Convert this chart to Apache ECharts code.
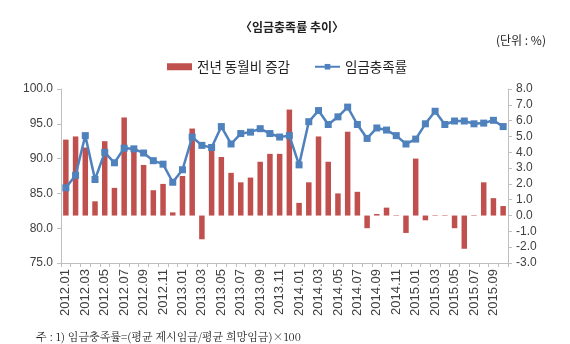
<!DOCTYPE html>
<html><head><meta charset="utf-8">
<script src="https://cdn.jsdelivr.net/npm/echarts@6/dist/echarts.min.js"></script>
<style>html,body{margin:0;padding:0;background:#fff}#c{width:570px;height:344px}</style>
</head><body><div id="c"></div>
<script>
const categories = [];
for (const y of [2012, 2013, 2014, 2015]) {
  for (let m = 1; m <= 12; m++) {
    if (y === 2015 && m > 10) break;
    categories.push(y + '.' + (m < 10 ? '0' + m : m));
  }
}
const changeYoY = [4.8, 5.0, 4.3, 0.9, 4.7, 1.75, 6.2, 4.2, 3.2, 1.6, 2.0, 0.2,
  2.5, 5.5, -1.5, 4.2, 3.7, 2.7, 2.1, 2.4, 3.4, 3.9, 3.9, 6.7,
  0.8, 2.1, 5.0, 3.4, 1.4, 5.3, 1.5, -0.8, 0.1, 0.5, -0.03, -1.1,
  3.6, -0.3, 0.03, 0.03, -0.8, -2.1, 0.03, 2.1, 1.1, 0.6];
const fulfillRate = [85.8, 87.6, 93.3, 87.0, 90.9, 89.4, 91.5, 91.4, 90.8, 89.7, 89.2, 86.6,
  88.4, 93.1, 91.9, 91.6, 94.6, 92.1, 93.6, 93.8, 94.3, 93.6, 93.1, 93.3,
  89.1, 95.3, 96.9, 94.9, 96.0, 97.4, 94.9, 92.9, 94.4, 94.1, 93.3, 92.1,
  92.8, 95.0, 96.8, 94.9, 95.4, 95.4, 95.0, 95.1, 95.5, 94.6];
const seriesNames = ['전년 동월비 증감', '임금충족률'];

const chart = echarts.init(document.getElementById('c'));
const axisColor = '#bfbfbf';
const labelColor = '#404040';
const font = '"Liberation Sans", "Noto Sans CJK KR", sans-serif';
const kfont = '"Noto Sans CJK KR", sans-serif';
chart.setOption({
  animation: false,
  textStyle: { fontFamily: font },
  title: [
    { text: '〈임금충족률 추이〉', left: 235, top: 16,
      textStyle: { fontSize: 12, fontWeight: 'bold', color: '#222', fontFamily: kfont } },
    { text: '(단위 : %)', left: 491, top: 29,
      textStyle: { fontSize: 12, fontWeight: 'normal', color: '#222', fontFamily: kfont } },
    { text: '주 : 1) 임금충족률=(평균 제시임금/평균 희망임금)×100', left: 31, top: 326,
      textStyle: { fontSize: 11, fontWeight: 'normal', color: '#222', fontFamily: '"Noto Serif CJK KR", "Noto Sans CJK KR", serif' } }
  ],
  legend: {
    top: 55, left: 162,
    itemGap: 24, itemWidth: 25, itemHeight: 7,
    textStyle: { fontSize: 13.5, color: '#222', fontFamily: kfont },
    data: [
      { name: seriesNames[0], icon: 'rect' },
      { name: seriesNames[1] }
    ]
  },
  grid: { left: 61, right: 62, top: 89, bottom: 81 },
  xAxis: {
    type: 'category', data: categories, boundaryGap: true,
    axisLine: { onZero: false, lineStyle: { color: axisColor } },
    axisTick: { show: true, interval: 0, length: 4, lineStyle: { color: axisColor } },
    axisLabel: { interval: 1, rotate: 90, fontSize: 13, color: labelColor, margin: 6 }
  },
  yAxis: [
    { type: 'value', min: 75, max: 100, interval: 5, splitLine: { show: false },
      axisLine: { show: true, lineStyle: { color: axisColor } },
      axisTick: { show: true, length: 4, lineStyle: { color: axisColor } },
      axisLabel: { formatter: v => v.toFixed(1), fontSize: 12, color: labelColor, margin: 8 } },
    { type: 'value', min: -3, max: 8, interval: 1, splitLine: { show: false },
      axisLine: { show: true, lineStyle: { color: axisColor } },
      axisTick: { show: true, length: 4, lineStyle: { color: axisColor } },
      axisLabel: { formatter: v => v.toFixed(1), fontSize: 12, color: labelColor, margin: 8 } }
  ],
  series: [
    { name: seriesNames[0], type: 'bar', yAxisIndex: 1, data: changeYoY,
      barWidth: 5.5, itemStyle: { color: '#C0504D' } },
    { name: seriesNames[1], type: 'line', yAxisIndex: 0, data: fulfillRate,
      symbol: 'rect', symbolSize: 7, showAllSymbol: true,
      lineStyle: { color: '#4F81BD', width: 2.5 },
      itemStyle: { color: '#4F81BD' } }
  ]
});
</script></body></html>
